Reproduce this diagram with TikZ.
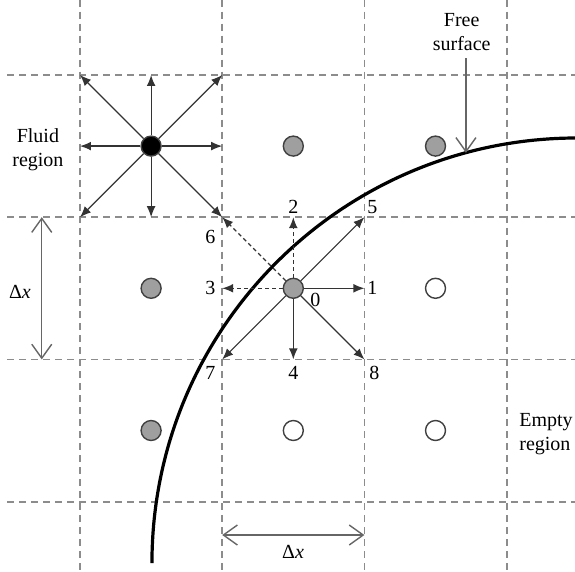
\documentclass[tikz,border=0pt]{standalone}
\usepackage{fontspec}
\setmainfont{Liberation Serif}
\usetikzlibrary{calc, arrows.meta, positioning}

\begin{document}
\begin{tikzpicture}[x=2.5cm, y=2.5cm,
  gridline/.style={gray!90, line width=0.9pt, dash pattern=on 3.5pt off 2.5pt},
  cell/.style={circle, draw=black!75, line width=0.7pt, minimum size=10pt, inner sep=0pt},
  fluidcell/.style={cell, fill=gray!75},
  emptycell/.style={cell, fill=white},
  vec/.style={black!80, line width=0.6pt, -{Latex[length=5.5pt,width=4.4pt]}},
  dvec/.style={vec, dash pattern=on 2pt off 1.5pt},
  pointer/.style={black!60, line width=0.7pt, -{Straight Barb[length=7pt,width=10pt]}},
  dimarrow/.style={pointer, {Straight Barb[length=7pt,width=10pt]}-{Straight Barb[length=7pt,width=10pt]}},
  lbl/.style={inner sep=0pt}]
\useasboundingbox (-0.5626,-3.495) rectangle (3.481,0.5274);
% grid of lattice cells
\foreach \i in {0,...,3} {
  \draw[gridline] (\i,0.53) -- (\i,-3.48);
  \draw[gridline] (-0.51,-\i) -- (3.49,-\i);
}
% free surface
\draw[line width=1.6pt] (0.506,-3.432) arc[start angle=180, end angle=90, radius=2.989];
% fluid cell with all eight directions
\node[cell, fill=black] (f) at (0.5,-0.5) {};
\foreach \k/\dx/\dy in {1/1/0, 2/0/1, 3/-1/0, 4/0/-1, 5/1/1, 6/-1/1, 7/-1/-1, 8/1/-1} {
  \coordinate (f\k) at ($(f)+(0.5*\dx,0.5*\dy)$);
  \draw[vec] (f) -- (f\k);
}
% interface cell 0: missing directions dashed
\node[fluidcell] (c) at (1.5,-1.5) {};
\foreach \k/\dx/\dy/\sty/\lx/\ly in {1/1/0/vec/0.056/0, 2/0/1/dvec/0/0.07,
    3/-1/0/dvec/-0.084/0, 4/0/-1/vec/0/-0.098, 5/1/1/vec/0.056/0.07,
    6/-1/1/dvec/-0.084/-0.14, 7/-1/-1/vec/-0.084/-0.098, 8/1/-1/vec/0.07/-0.098} {
  \coordinate (p\k) at ($(c)+(0.5*\dx,0.5*\dy)$);
  \draw[\sty] (c) -- (p\k);
  \node[lbl] (l\k) at ($(p\k)+(\lx,\ly)$) {\k};
}
\node[lbl] (l0) at ($(c)+(0.155,-0.084)$) {0};
% other cells
\node[fluidcell] (g1) at (1.5,-0.5) {};
\node[fluidcell] (g2) at (2.5,-0.5) {};
\node[fluidcell] (g3) at (0.5,-1.5) {};
\node[fluidcell] (g4) at (0.5,-2.5) {};
\node[emptycell] (e1) at (2.5,-1.5) {};
\node[emptycell] (e2) at (1.5,-2.5) {};
\node[emptycell] (e3) at (2.5,-2.5) {};
% region labels
\node[align=center] (fr) at (-0.296,-0.524) {Fluid\\region};
\node[align=left, anchor=west] (er) at (3.040,-2.525) {Empty\\region};
\node[align=center] (fs) at (2.684,0.299) {Free\\surface};
\coordinate (fstip) at (2.714,-0.547);
\draw[pointer] (fstip |- fs.south) -- (fstip);
% cell size
\coordinate (hA) at (-0.269,-1);
\coordinate (hB) at (-0.269,-2);
\draw[dimarrow] (hA) -- (hB);
\node (hx) at (-0.422,-1.526) {Δ\textit{x}};
\coordinate (wA) at (1,-3.235);
\coordinate (wB) at (2,-3.235);
\draw[dimarrow] (wA) -- (wB);
\node (wx) at (1.498,-3.354) {Δ\textit{x}};
\end{tikzpicture}
\end{document}
